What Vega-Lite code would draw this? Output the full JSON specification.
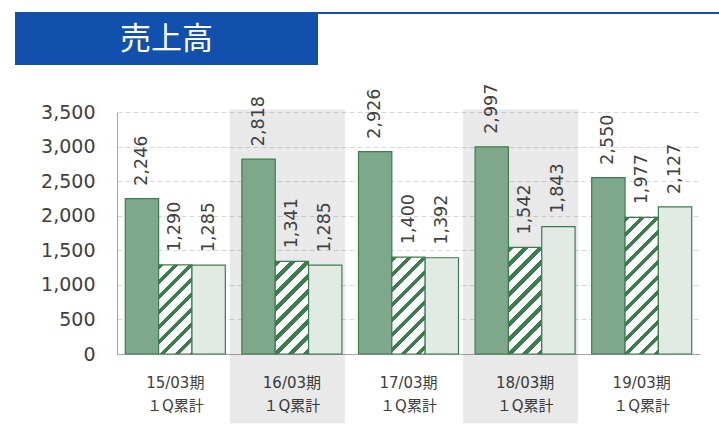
{
  "$schema": "https://vega.github.io/schema/vega-lite/v6.json",
  "padding": {"left": 15, "top": 12, "right": 0, "bottom": 0},
  "background": "#ffffff",
  "spacing": 18,
  "config": {
    "axisY": {
      "values": [0, 500, 1000, 1500, 2000, 2500, 3000, 3500], "format": ",d",
      "grid": true, "gridColor": "#D9D9D9", "gridDash": [5, 3], "gridWidth": 1,
      "ticks": false, "domain": true, "domainColor": "#A6A6A6", "domainWidth": 1,
      "labelFont": "DejaVu Sans", "labelFontSize": 19, "labelColor": "#404040", "labelPadding": 22,
      "minExtent": 101, "maxExtent": 101, "title": null
    }
  },
  "vconcat": [
    {
      "spacing": 0,
      "hconcat": [
        {
          "width": 303,
          "height": 53,
          "view": {"fill": "#1250AE", "stroke": null},
          "data": {"values": [{"t": "売上高"}]},
          "mark": {"type": "text", "font": "Noto Sans CJK JP", "fontSize": 31, "color": "#ffffff", "baseline": "middle", "align": "center", "dy": 1},
          "encoding": {"text": {"field": "t", "type": "nominal"}}
        },
        {
          "width": 401,
          "height": 2,
          "view": {"fill": "#1250AE", "stroke": null},
          "data": {"values": [{"t": ""}]},
          "mark": {"type": "text", "fontSize": 1, "opacity": 0},
          "encoding": {"text": {"field": "t", "type": "nominal"}}
        }
      ]
    },
    {
      "spacing": 0,
      "hconcat": [
        {
          "width": 1,
          "height": 242,
          "view": {"stroke": null},
          "data": {"values": [{"t": ""}]},
          "mark": {"type": "text", "fontSize": 1, "opacity": 0},
          "encoding": {"text": {"field": "t", "type": "nominal"}}
        },
        {
          "width": 583,
          "height": 242,
          "view": {"stroke": null},
          "data": {"values": [
            {"cat": "15/03期", "series": "系列1", "value": 2246},
            {"cat": "15/03期", "series": "系列2", "value": 1290},
            {"cat": "15/03期", "series": "系列3", "value": 1285},
            {"cat": "16/03期", "series": "系列1", "value": 2818},
            {"cat": "16/03期", "series": "系列2", "value": 1341},
            {"cat": "16/03期", "series": "系列3", "value": 1285},
            {"cat": "17/03期", "series": "系列1", "value": 2926},
            {"cat": "17/03期", "series": "系列2", "value": 1400},
            {"cat": "17/03期", "series": "系列3", "value": 1392},
            {"cat": "18/03期", "series": "系列1", "value": 2997},
            {"cat": "18/03期", "series": "系列2", "value": 1542},
            {"cat": "18/03期", "series": "系列3", "value": 1843},
            {"cat": "19/03期", "series": "系列1", "value": 2550},
            {"cat": "19/03期", "series": "系列2", "value": 1977},
            {"cat": "19/03期", "series": "系列3", "value": 2127}
          ]},
          "encoding": {
            "x": {
              "field": "cat", "type": "nominal", "sort": null,
              "scale": {"domain": ["15/03期", "16/03期", "17/03期", "18/03期", "19/03期"], "paddingInner": 0.1424, "paddingOuter": 0.0712},
              "axis": {
                "title": null, "ticks": false, "labelAngle": 0,
                "domainColor": "#A6A6A6", "domainWidth": 1,
                "labelFont": "DejaVu Sans, Noto Sans CJK JP", "labelFontSize": 15, "labelColor": "#404040",
                "labelPadding": 21, "labelLineHeight": 23, "labelBaseline": "top",
                "labelExpr": "[datum.label, '１Q累計']"
              }
            }
          },
          "layer": [
            {
              "data": {"values": [{"cat": "16/03期"}, {"cat": "18/03期"}]},
              "mark": {"type": "bar", "fill": "#000000", "fillOpacity": 0.085, "width": {"band": 1.15}, "xOffset": -4.5, "clip": false},
              "encoding": {
                "y": {"datum": 3536, "type": "quantitative", "scale": {"domain": [0, 3500], "nice": false, "zero": true}, "axis": {"title": null, "format": ",d"}},
                "y2": {"datum": -1000}
              }
            },
            {
              "mark": {"type": "bar", "stroke": "#3C7D50", "strokeWidth": 1.2},
              "encoding": {
                "xOffset": {"field": "series", "type": "nominal", "sort": null},
                "y": {
                  "field": "value", "type": "quantitative",
                  "scale": {"domain": [0, 3500], "nice": false, "zero": true},
                  "axis": {"title": null, "format": ",d"}
                },
                "fill": {
                  "condition": [
                    {"test": "datum.series === '系列2' && datum.cat === '15/03期'", "value": {"gradient": "linear", "x1": 0, "y1": 0, "x2": 0.4505, "y2": 1.2053, "stops": [
                      {"offset": 0, "color": "#3C7D50"}, {"offset": 0.0449, "color": "#3C7D50"}, {"offset": 0.0449, "color": "#ffffff"}, {"offset": 0.1224, "color": "#ffffff"},
                      {"offset": 0.1224, "color": "#3C7D50"}, {"offset": 0.1673, "color": "#3C7D50"}, {"offset": 0.1673, "color": "#ffffff"}, {"offset": 0.2449, "color": "#ffffff"},
                      {"offset": 0.2449, "color": "#3C7D50"}, {"offset": 0.2898, "color": "#3C7D50"}, {"offset": 0.2898, "color": "#ffffff"}, {"offset": 0.3673, "color": "#ffffff"},
                      {"offset": 0.3673, "color": "#3C7D50"}, {"offset": 0.4122, "color": "#3C7D50"}, {"offset": 0.4122, "color": "#ffffff"}, {"offset": 0.4897, "color": "#ffffff"},
                      {"offset": 0.4897, "color": "#3C7D50"}, {"offset": 0.5346, "color": "#3C7D50"}, {"offset": 0.5346, "color": "#ffffff"}, {"offset": 0.6122, "color": "#ffffff"},
                      {"offset": 0.6122, "color": "#3C7D50"}, {"offset": 0.6571, "color": "#3C7D50"}, {"offset": 0.6571, "color": "#ffffff"}, {"offset": 0.7346, "color": "#ffffff"},
                      {"offset": 0.7346, "color": "#3C7D50"}, {"offset": 0.7795, "color": "#3C7D50"}, {"offset": 0.7795, "color": "#ffffff"}, {"offset": 0.8570, "color": "#ffffff"},
                      {"offset": 0.8570, "color": "#3C7D50"}, {"offset": 0.9019, "color": "#3C7D50"}, {"offset": 0.9019, "color": "#ffffff"}, {"offset": 0.9794, "color": "#ffffff"},
                      {"offset": 0.9794, "color": "#3C7D50"}, {"offset": 1, "color": "#3C7D50"}
                    ]}},
                    {"test": "datum.series === '系列2' && datum.cat === '16/03期'", "value": {"gradient": "linear", "x1": 0, "y1": 0, "x2": 0.4328, "y2": 1.2039, "stops": [
                      {"offset": 0, "color": "#3C7D50"}, {"offset": 0.0436, "color": "#3C7D50"}, {"offset": 0.0436, "color": "#ffffff"}, {"offset": 0.1190, "color": "#ffffff"},
                      {"offset": 0.1190, "color": "#3C7D50"}, {"offset": 0.1626, "color": "#3C7D50"}, {"offset": 0.1626, "color": "#ffffff"}, {"offset": 0.2380, "color": "#ffffff"},
                      {"offset": 0.2380, "color": "#3C7D50"}, {"offset": 0.2816, "color": "#3C7D50"}, {"offset": 0.2816, "color": "#ffffff"}, {"offset": 0.3570, "color": "#ffffff"},
                      {"offset": 0.3570, "color": "#3C7D50"}, {"offset": 0.4006, "color": "#3C7D50"}, {"offset": 0.4006, "color": "#ffffff"}, {"offset": 0.4760, "color": "#ffffff"},
                      {"offset": 0.4760, "color": "#3C7D50"}, {"offset": 0.5196, "color": "#3C7D50"}, {"offset": 0.5196, "color": "#ffffff"}, {"offset": 0.5950, "color": "#ffffff"},
                      {"offset": 0.5950, "color": "#3C7D50"}, {"offset": 0.6386, "color": "#3C7D50"}, {"offset": 0.6386, "color": "#ffffff"}, {"offset": 0.7140, "color": "#ffffff"},
                      {"offset": 0.7140, "color": "#3C7D50"}, {"offset": 0.7576, "color": "#3C7D50"}, {"offset": 0.7576, "color": "#ffffff"}, {"offset": 0.8330, "color": "#ffffff"},
                      {"offset": 0.8330, "color": "#3C7D50"}, {"offset": 0.8766, "color": "#3C7D50"}, {"offset": 0.8766, "color": "#ffffff"}, {"offset": 0.9520, "color": "#ffffff"},
                      {"offset": 0.9520, "color": "#3C7D50"}, {"offset": 0.9956, "color": "#3C7D50"}, {"offset": 0.9956, "color": "#ffffff"}, {"offset": 1, "color": "#ffffff"}
                    ]}},
                    {"test": "datum.series === '系列2' && datum.cat === '17/03期'", "value": {"gradient": "linear", "x1": 0, "y1": 0, "x2": 0.4139, "y2": 1.2018, "stops": [
                      {"offset": 0, "color": "#3C7D50"}, {"offset": 0.0423, "color": "#3C7D50"}, {"offset": 0.0423, "color": "#ffffff"}, {"offset": 0.1153, "color": "#ffffff"},
                      {"offset": 0.1153, "color": "#3C7D50"}, {"offset": 0.1575, "color": "#3C7D50"}, {"offset": 0.1575, "color": "#ffffff"}, {"offset": 0.2305, "color": "#ffffff"},
                      {"offset": 0.2305, "color": "#3C7D50"}, {"offset": 0.2728, "color": "#3C7D50"}, {"offset": 0.2728, "color": "#ffffff"}, {"offset": 0.3458, "color": "#ffffff"},
                      {"offset": 0.3458, "color": "#3C7D50"}, {"offset": 0.3881, "color": "#3C7D50"}, {"offset": 0.3881, "color": "#ffffff"}, {"offset": 0.4611, "color": "#ffffff"},
                      {"offset": 0.4611, "color": "#3C7D50"}, {"offset": 0.5034, "color": "#3C7D50"}, {"offset": 0.5034, "color": "#ffffff"}, {"offset": 0.5764, "color": "#ffffff"},
                      {"offset": 0.5764, "color": "#3C7D50"}, {"offset": 0.6186, "color": "#3C7D50"}, {"offset": 0.6186, "color": "#ffffff"}, {"offset": 0.6916, "color": "#ffffff"},
                      {"offset": 0.6916, "color": "#3C7D50"}, {"offset": 0.7339, "color": "#3C7D50"}, {"offset": 0.7339, "color": "#ffffff"}, {"offset": 0.8069, "color": "#ffffff"},
                      {"offset": 0.8069, "color": "#3C7D50"}, {"offset": 0.8492, "color": "#3C7D50"}, {"offset": 0.8492, "color": "#ffffff"}, {"offset": 0.9222, "color": "#ffffff"},
                      {"offset": 0.9222, "color": "#3C7D50"}, {"offset": 0.9644, "color": "#3C7D50"}, {"offset": 0.9644, "color": "#ffffff"}, {"offset": 1, "color": "#ffffff"}
                    ]}},
                    {"test": "datum.series === '系列2' && datum.cat === '18/03期'", "value": {"gradient": "linear", "x1": 0, "y1": 0, "x2": 0.3738, "y2": 1.1957, "stops": [
                      {"offset": 0, "color": "#3C7D50"}, {"offset": 0.0393, "color": "#3C7D50"}, {"offset": 0.0393, "color": "#ffffff"}, {"offset": 0.1072, "color": "#ffffff"},
                      {"offset": 0.1072, "color": "#3C7D50"}, {"offset": 0.1465, "color": "#3C7D50"}, {"offset": 0.1465, "color": "#ffffff"}, {"offset": 0.2144, "color": "#ffffff"},
                      {"offset": 0.2144, "color": "#3C7D50"}, {"offset": 0.2537, "color": "#3C7D50"}, {"offset": 0.2537, "color": "#ffffff"}, {"offset": 0.3215, "color": "#ffffff"},
                      {"offset": 0.3215, "color": "#3C7D50"}, {"offset": 0.3608, "color": "#3C7D50"}, {"offset": 0.3608, "color": "#ffffff"}, {"offset": 0.4287, "color": "#ffffff"},
                      {"offset": 0.4287, "color": "#3C7D50"}, {"offset": 0.4680, "color": "#3C7D50"}, {"offset": 0.4680, "color": "#ffffff"}, {"offset": 0.5359, "color": "#ffffff"},
                      {"offset": 0.5359, "color": "#3C7D50"}, {"offset": 0.5752, "color": "#3C7D50"}, {"offset": 0.5752, "color": "#ffffff"}, {"offset": 0.6431, "color": "#ffffff"},
                      {"offset": 0.6431, "color": "#3C7D50"}, {"offset": 0.6824, "color": "#3C7D50"}, {"offset": 0.6824, "color": "#ffffff"}, {"offset": 0.7503, "color": "#ffffff"},
                      {"offset": 0.7503, "color": "#3C7D50"}, {"offset": 0.7896, "color": "#3C7D50"}, {"offset": 0.7896, "color": "#ffffff"}, {"offset": 0.8574, "color": "#ffffff"},
                      {"offset": 0.8574, "color": "#3C7D50"}, {"offset": 0.8967, "color": "#3C7D50"}, {"offset": 0.8967, "color": "#ffffff"}, {"offset": 0.9646, "color": "#ffffff"},
                      {"offset": 0.9646, "color": "#3C7D50"}, {"offset": 1, "color": "#3C7D50"}
                    ]}},
                    {"test": "datum.series === '系列2' && datum.cat === '19/03期'", "value": {"gradient": "linear", "x1": 0, "y1": 0, "x2": 0.2863, "y2": 1.1740, "stops": [
                      {"offset": 0, "color": "#3C7D50"}, {"offset": 0.0324, "color": "#3C7D50"}, {"offset": 0.0324, "color": "#ffffff"}, {"offset": 0.0882, "color": "#ffffff"},
                      {"offset": 0.0882, "color": "#3C7D50"}, {"offset": 0.1206, "color": "#3C7D50"}, {"offset": 0.1206, "color": "#ffffff"}, {"offset": 0.1764, "color": "#ffffff"},
                      {"offset": 0.1764, "color": "#3C7D50"}, {"offset": 0.2088, "color": "#3C7D50"}, {"offset": 0.2088, "color": "#ffffff"}, {"offset": 0.2647, "color": "#ffffff"},
                      {"offset": 0.2647, "color": "#3C7D50"}, {"offset": 0.2970, "color": "#3C7D50"}, {"offset": 0.2970, "color": "#ffffff"}, {"offset": 0.3529, "color": "#ffffff"},
                      {"offset": 0.3529, "color": "#3C7D50"}, {"offset": 0.3852, "color": "#3C7D50"}, {"offset": 0.3852, "color": "#ffffff"}, {"offset": 0.4411, "color": "#ffffff"},
                      {"offset": 0.4411, "color": "#3C7D50"}, {"offset": 0.4735, "color": "#3C7D50"}, {"offset": 0.4735, "color": "#ffffff"}, {"offset": 0.5293, "color": "#ffffff"},
                      {"offset": 0.5293, "color": "#3C7D50"}, {"offset": 0.5617, "color": "#3C7D50"}, {"offset": 0.5617, "color": "#ffffff"}, {"offset": 0.6176, "color": "#ffffff"},
                      {"offset": 0.6176, "color": "#3C7D50"}, {"offset": 0.6499, "color": "#3C7D50"}, {"offset": 0.6499, "color": "#ffffff"}, {"offset": 0.7058, "color": "#ffffff"},
                      {"offset": 0.7058, "color": "#3C7D50"}, {"offset": 0.7381, "color": "#3C7D50"}, {"offset": 0.7381, "color": "#ffffff"}, {"offset": 0.7940, "color": "#ffffff"},
                      {"offset": 0.7940, "color": "#3C7D50"}, {"offset": 0.8264, "color": "#3C7D50"}, {"offset": 0.8264, "color": "#ffffff"}, {"offset": 0.8822, "color": "#ffffff"},
                      {"offset": 0.8822, "color": "#3C7D50"}, {"offset": 0.9146, "color": "#3C7D50"}, {"offset": 0.9146, "color": "#ffffff"}, {"offset": 0.9705, "color": "#ffffff"},
                      {"offset": 0.9705, "color": "#3C7D50"}, {"offset": 1, "color": "#3C7D50"}
                    ]}},
                    {"test": "datum.series === '系列3'", "value": "#E1EBE4"}
                  ],
                  "value": "#7FA88B"
                }
              }
            },
            {
              "mark": {"type": "text", "angle": 270, "align": "left", "baseline": "middle", "dx": 13, "font": "DejaVu Sans", "fontSize": 17.5, "color": "#404040"},
              "encoding": {
                "xOffset": {"field": "series", "type": "nominal", "sort": null},
                "y": {"field": "value", "type": "quantitative", "scale": {"domain": [0, 3500], "nice": false, "zero": true}, "axis": {"title": null, "format": ",d"}},
                "text": {"field": "value", "type": "quantitative", "format": ","}
              }
            }
          ]
        }
      ]
    }
  ]
}
